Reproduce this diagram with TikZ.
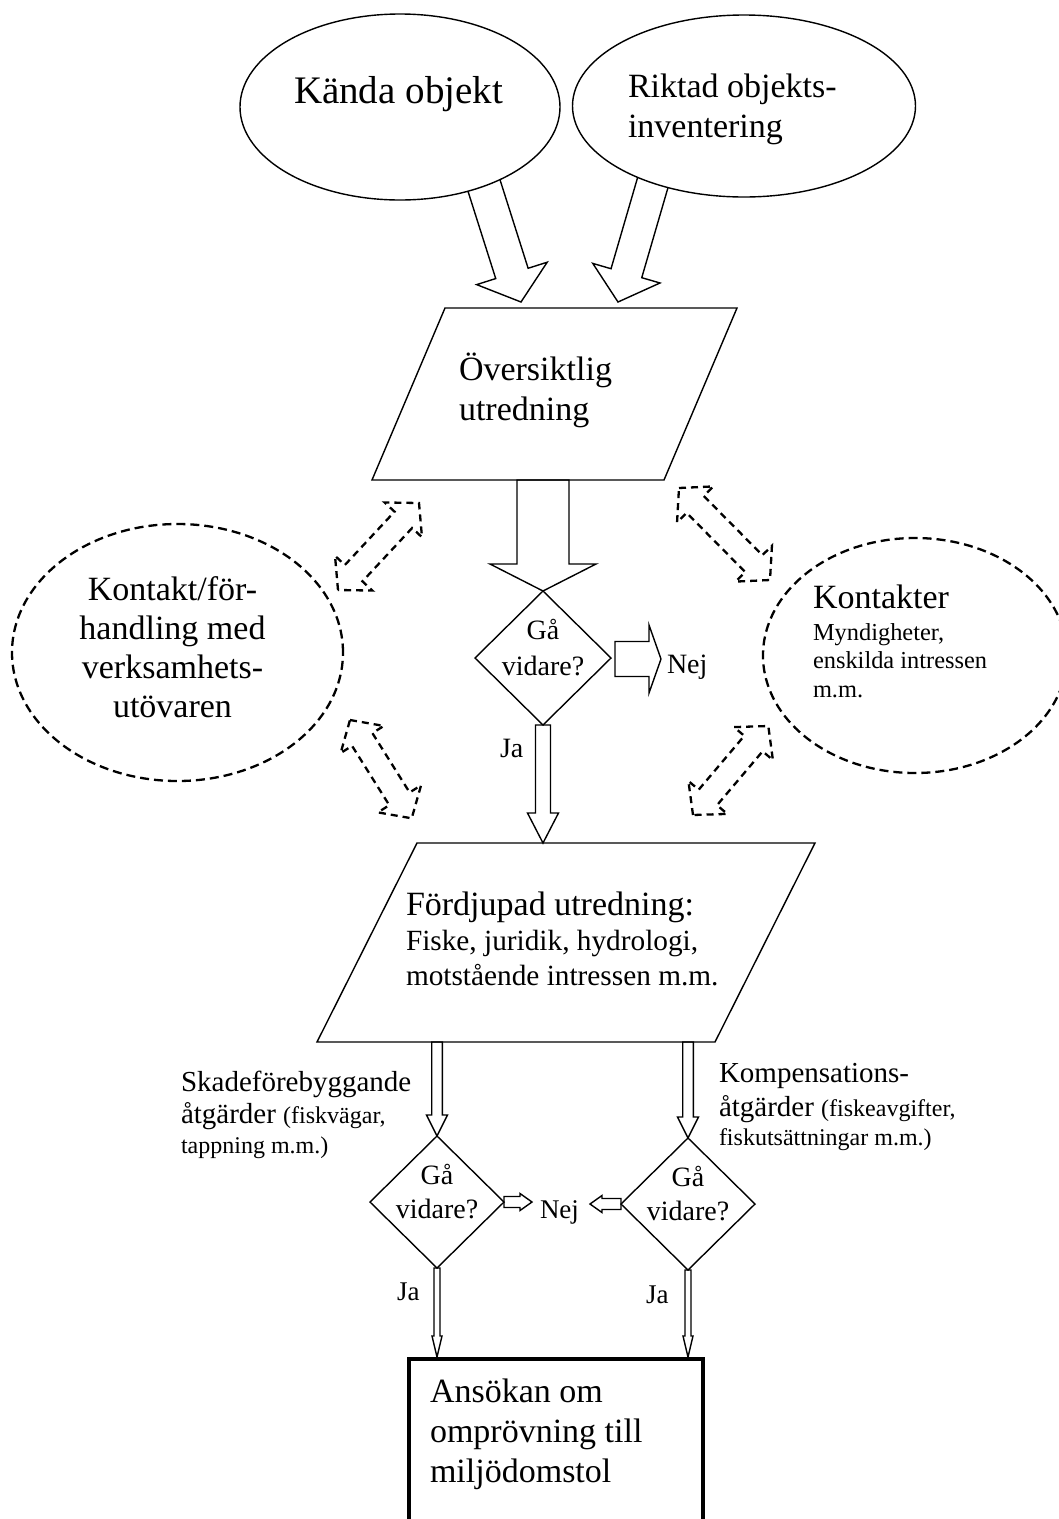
\documentclass[tikz,border=0pt]{standalone}
\usepackage{fontspec}
\setmainfont{Liberation Serif}
\usetikzlibrary{calc,shapes.geometric}
% block arrow: [style]{from}{tip}{shaft half width}{head half width}{head length}
\newcommand{\fatarrow}[6][]{%
  \coordinate (fa-h) at ($(#3)!#6!(#2)$);
  \draw[#1] ($(#2)!#4!90:(#3)$) -- ($(fa-h)!#4!90:(#3)$) -- ($(fa-h)!#5!90:(#3)$) -- (#3)
     -- ($(fa-h)!#5!-90:(#3)$) -- ($(fa-h)!#4!-90:(#3)$) -- ($(#2)!#4!-90:(#3)$) -- cycle;
}
% double block arrow: [style]{tip1}{tip2}{shaft half width}{head half width}{head length}
\newcommand{\dblarrow}[6][]{%
  \coordinate (da-h1) at ($(#2)!#6!(#3)$);
  \coordinate (da-h2) at ($(#3)!#6!(#2)$);
  \draw[#1] (#2) -- ($(da-h1)!#5!90:(#3)$) -- ($(da-h1)!#4!90:(#3)$) -- ($(da-h2)!#4!-90:(#2)$)
     -- ($(da-h2)!#5!-90:(#2)$) -- (#3) -- ($(da-h2)!#5!90:(#2)$) -- ($(da-h2)!#4!90:(#2)$)
     -- ($(da-h1)!#4!-90:(#3)$) -- ($(da-h1)!#5!-90:(#3)$) -- cycle;
}
\begin{document}
\begin{tikzpicture}[x=1pt,y=-1pt,
  solidln/.style={line width=1.4pt, line join=miter},
  dashln/.style={line width=2.3pt, dash pattern=on 9pt off 5pt},
  dasharr/.style={line width=2.3pt, dash pattern=on 7pt off 5pt},
  txt/.style={inner sep=0pt, outer sep=0pt, anchor=base west, align=left},
  ctxt/.style={inner sep=0pt, outer sep=0pt, anchor=base, align=center},
  fsbig/.style={font=\fontsize{34}{40}\selectfont},
  fsmid/.style={font=\fontsize{28}{36}\selectfont},
  shape0/.style={inner sep=0pt, outer sep=0pt}
]
\useasboundingbox (0,0) rectangle (1059,1519);
\fill[white] (0,0) rectangle (1059,1519);
\clip (0,0) rectangle (1059,1519);

% ---- top block arrows (drawn under the ellipses)
\coordinate (a1s) at (474,154); \coordinate (a1t) at (521,302);
\coordinate (a2s) at (662,151); \coordinate (a2t) at (618,302);
\fatarrow[solidln]{a1s}{a1t}{17pt}{37pt}{30pt}
\fatarrow[solidln]{a2s}{a2t}{16pt}{35pt}{30pt}

% ---- top ellipses
\node[ellipse, draw, solidln, fill=white, shape0, minimum width=320pt, minimum height=186pt] (e1) at (400,107) {};
\node[ellipse, draw, solidln, fill=white, shape0, minimum width=343pt, minimum height=182pt] (e2) at (744,106) {};
\node[txt, font=\fontsize{39}{45}\selectfont] (t-kanda) at (294,103) {Kända objekt};
\node[txt, fsbig] (t-riktad) at (628,137) {Riktad objekts-\\inventering};

% ---- parallelogram 1
\coordinate (p1a) at (445,308); \coordinate (p1b) at (737,308);
\coordinate (p1c) at (664,480); \coordinate (p1d) at (372,480);
\draw[solidln] (p1a) -- (p1b) -- (p1c) -- (p1d) -- cycle;
\node[txt, fsbig] (t-over) at (459,420) {Översiktlig\\utredning};

% ---- diamond 1
\node[diamond, draw, solidln, shape0, minimum width=136pt, minimum height=134pt] (d1) at (543,658) {};
\coordinate (p1out) at (543,480);
\fatarrow[solidln]{p1out}{d1.north}{26pt}{53pt}{27pt}
\node[ctxt, fsmid] (t-ga1) at (543,675) {Gå\\vidare?};
\coordinate (n1s) at (615,659); \coordinate (n1t) at (661,659);
\fatarrow[solidln]{n1s}{n1t}{17.5pt}{34pt}{12pt}
\node[txt, fsmid] (t-nej1) at (667,673) {Nej};

% ---- parallelogram 2
\coordinate (p2a) at (417,843); \coordinate (p2b) at (815,843);
\coordinate (p2c) at (715,1042); \coordinate (p2d) at (317,1042);
\coordinate (p2top) at (543,843);
\fatarrow[solidln]{d1.south}{p2top}{7.5pt}{15.5pt}{30pt}
\node[txt, fsmid] (t-ja1) at (500,757) {Ja};
\draw[solidln] (p2a) -- (p2b) -- (p2c) -- (p2d) -- cycle;
\node[txt, fsbig] (t-ford) at (406,915) {Fördjupad utredning:};
\node[txt, font=\fontsize{29.3}{35}\selectfont] (t-fiske) at (406,985) {Fiske, juridik, hydrologi,\\motstående intressen m.m.};

% ---- dashed ellipses
\node[ellipse, draw, dashln, shape0, minimum width=331pt, minimum height=257pt] (e3) at (177.5,652.5) {};
\node[ellipse, draw, dashln, shape0, minimum width=304pt, minimum height=235pt] (e4) at (915,655.5) {};
\node[ctxt, font=\fontsize{34}{39}\selectfont] (t-kontakt) at (172.5,717) {Kontakt/för-\\handling med\\verksamhets-\\utövaren};
\node[txt, fsbig] (t-kontakter) at (813,608) {Kontakter};
\node[txt, font=\fontsize{24.4}{28.5}\selectfont] (t-mynd) at (813,697) {Myndigheter,\\enskilda intressen\\m.m.};

% ---- dashed double arrows
\coordinate (da1a) at (338,590); \coordinate (da1b) at (419,503);
\coordinate (da2a) at (350,720); \coordinate (da2b) at (411.7,818.3);
\coordinate (da3a) at (679,488); \coordinate (da3b) at (770,580);
\coordinate (da4a) at (693,815); \coordinate (da4b) at (768.3,726);
\dblarrow[dasharr]{da1a}{da1b}{12pt}{25.5pt}{23pt}
\dblarrow[dasharr]{da2a}{da2b}{12pt}{25.5pt}{23pt}
\dblarrow[dasharr]{da3a}{da3b}{12pt}{25.5pt}{23pt}
\dblarrow[dasharr]{da4a}{da4b}{12pt}{25.5pt}{23pt}

% ---- lower diamonds
\node[diamond, draw, solidln, shape0, minimum width=134pt, minimum height=132pt] (d2) at (437,1202) {};
\node[diamond, draw, solidln, shape0, minimum width=134pt, minimum height=132pt] (d3) at (688,1204) {};
\coordinate (p2l) at (437,1042); \coordinate (p2r) at (688,1042);
\fatarrow[solidln]{p2l}{d2.north}{5.3pt}{10.5pt}{21pt}
\fatarrow[solidln]{p2r}{d3.north}{5.3pt}{10.5pt}{21pt}
\node[ctxt, font=\fontsize{28}{34}\selectfont] (t-ga2) at (437,1218) {Gå\\vidare?};
\node[ctxt, font=\fontsize{28}{34}\selectfont] (t-ga3) at (688,1220) {Gå\\vidare?};

\node[txt, font=\fontsize{29}{32}\selectfont] (t-skade) at (181,1153)
  {Skadeförebyggande\\åtgärder {\fontsize{24}{30}\selectfont (fiskvägar,}\\[-2pt]{\fontsize{24}{30}\selectfont tappning m.m.)}};
\node[txt, font=\fontsize{29}{34}\selectfont] (t-komp) at (719,1145)
  {Kompensations-\\åtgärder {\fontsize{24}{30}\selectfont (fiskeavgifter,}\\[-5pt]{\fontsize{24}{30}\selectfont fiskutsättningar m.m.)}};

\coordinate (n2t) at (532,1202); \coordinate (n3t) at (590,1204);
\fatarrow[solidln]{d2.east}{n2t}{5.5pt}{8.5pt}{12pt}
\fatarrow[solidln]{d3.west}{n3t}{5.5pt}{8.5pt}{12pt}
\node[txt, font=\fontsize{27}{32}\selectfont] (t-nej2) at (540,1218) {Nej};

% ---- final box
\node[draw, line width=4.5pt, shape0, anchor=north west, minimum width=294pt, minimum height=240pt] (box) at (409,1359) {};
\coordinate (b1) at (437,1357); \coordinate (b2) at (688,1357);
\fatarrow[solidln]{d2.south}{b1}{3pt}{5pt}{21pt}
\fatarrow[solidln]{d3.south}{b2}{3pt}{5pt}{21pt}
\node[txt, font=\fontsize{27}{32}\selectfont] (t-ja2) at (397,1300) {Ja};
\node[txt, font=\fontsize{27}{32}\selectfont] (t-ja3) at (646,1303) {Ja};
\node[txt, fsbig] (t-ans) at (430,1482) {Ansökan om\\omprövning till\\miljödomstol};
\end{tikzpicture}
\end{document}
